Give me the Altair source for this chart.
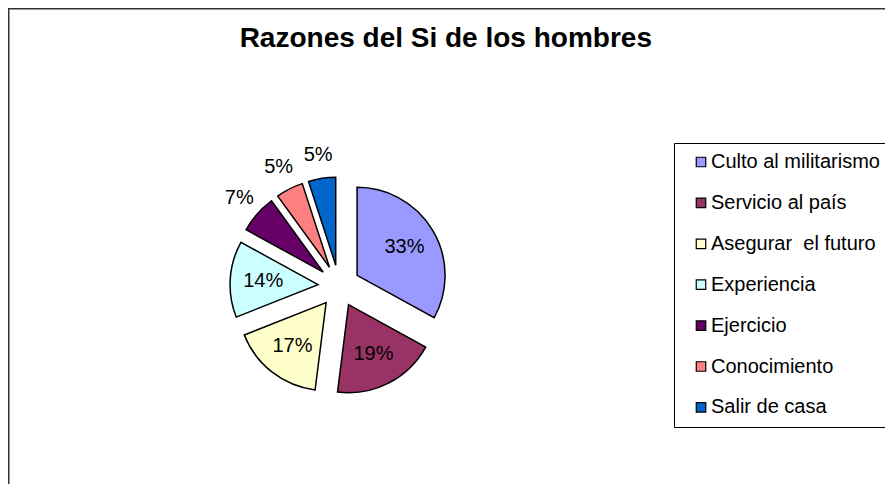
import altair as alt
import pandas as pd

# ---- data ----
categories = ["Culto al militarismo", "Servicio al país", "Asegurar\u00a0 el futuro",
              "Experiencia", "Ejercicio", "Conocimiento", "Salir de casa"]
values = [33, 19, 17, 14, 7, 5, 5]
colors = ["#9999FF", "#993366", "#FFFFCC", "#CCFFFF", "#660066", "#FF8080", "#0066CC"]
title_text = "Razones del Si de los hombres"

df = pd.DataFrame({"cat": categories, "value": values, "idx": list(range(len(values)))})

W, H = 877, 476
CX, CY = 331, 278          # pie centre inside the plot area (pixels)
EXPLODE = 21               # explosion distance
R = 88                     # pie radius
FONT = "Liberation Sans"

base = alt.Chart(df).transform_window(
    cum="sum(value)", sort=[alt.SortField("idx")], frame=[None, 0]
).transform_joinaggregate(
    total="sum(value)"
).transform_calculate(
    t0="(datum.cum - datum.value) / datum.total * 2 * PI",
    t1="datum.cum / datum.total * 2 * PI",
    pct="datum.value / datum.total",
).transform_calculate(
    mid="(datum.t0 + datum.t1) / 2",
).transform_calculate(
    ex=f"sin(datum.mid) * {EXPLODE}",
    ey=f"cos(datum.mid) * {EXPLODE}",
    lr="datum.pct >= 0.1 ? 76 : 133",
).transform_calculate(
    lx="sin(datum.mid) * datum.lr",
    ly="cos(datum.mid) * datum.lr",
)

xscale = alt.Scale(domain=[-CX, W - CX], nice=False, zero=False)
yscale = alt.Scale(domain=[-(H - CY), CY], nice=False, zero=False)

arcs = base.mark_arc(outerRadius=R, stroke="black", strokeWidth=1.5).encode(
    theta=alt.Theta("t0:Q", scale=None),
    theta2="t1:Q",
    x=alt.X("ex:Q", scale=xscale, axis=None),
    y=alt.Y("ey:Q", scale=yscale, axis=None),
    color=alt.Color(
        "cat:N",
        scale=alt.Scale(domain=categories, range=colors),
        legend=alt.Legend(
            title=None, orient="none", legendX=666, legendY=135,
            symbolType="square", symbolSize=90, symbolStrokeColor="black",
            symbolStrokeWidth=1.2, labelFont=FONT, labelFontSize=20,
            labelColor="black", strokeColor="black", padding=9,
            rowPadding=20.9, symbolOffset=8, labelOffset=0, fillColor="white",
            labelLimit=400,
        ),
    ),
)

labels = base.mark_text(font=FONT, fontSize=20, color="black", baseline="middle",
                        align="center").encode(
    x=alt.X("lx:Q", scale=xscale, axis=None),
    y=alt.Y("ly:Q", scale=yscale, axis=None),
    text=alt.Text("pct:Q", format=".0%"),
)

frame_data = alt.Data(values=[{"t": title_text}])
left_edge = alt.Chart(frame_data).mark_rule(color="#333333", strokeWidth=1.5).encode(
    x=alt.value(0.75), y=alt.value(0), y2=alt.value(H)
)
top_edge = alt.Chart(frame_data).mark_rule(color="#333333", strokeWidth=1.5).encode(
    x=alt.value(0), x2=alt.value(W), y=alt.value(0.75)
)
title = alt.Chart(frame_data).mark_text(
    font=FONT, fontSize=28, fontWeight="bold", color="black",
    align="center", baseline="alphabetic"
).encode(text="t:N", x=alt.value(437.8), y=alt.value(38.7))

chart = alt.layer(left_edge, top_edge, title, arcs, labels).properties(
    width=W, height=H, padding=0, autosize="none",
).configure_view(stroke=None).configure(background="white")

chart.save("out.html", embed_options={"renderer": "svg", "actions": False})
